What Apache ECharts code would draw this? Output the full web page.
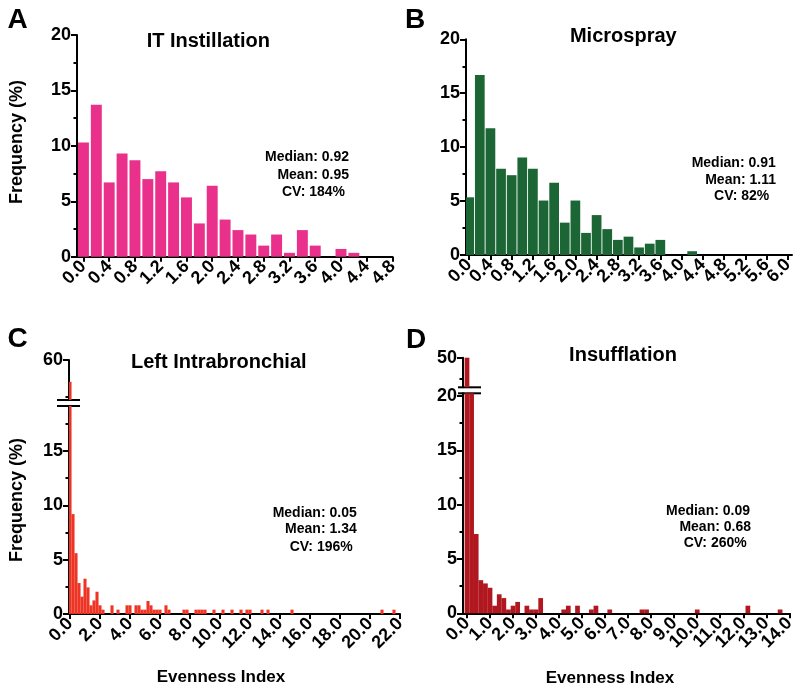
<!DOCTYPE html>
<html><head><meta charset="utf-8">
<script src="https://cdn.jsdelivr.net/npm/echarts@6/dist/echarts.min.js"></script>
<style>html,body{margin:0;padding:0;background:#fff}#c{width:800px;height:692px}</style>
</head><body><div id="c"></div>
<script>
// ---------- DATA ----------
// Panel A: IT Instillation (bin centers, frequency %)
const binsA = [0.0,0.2,0.4,0.6,0.8,1.0,1.2,1.4,1.6,1.8,2.0,2.2,2.4,2.6,2.8,3.0,3.2,3.4,3.6,3.8,4.0,4.2];
const freqA = [10.3,13.7,6.7,9.3,8.7,7.0,7.7,6.7,5.35,3.0,6.4,3.35,2.4,2.0,1.0,2.0,0.35,2.4,1.0,0,0.7,0.35];
// Panel B: Microspray
const binsB = [0.0,0.2,0.4,0.6,0.8,1.0,1.2,1.4,1.6,1.8,2.0,2.2,2.4,2.6,2.8,3.0,3.2,3.4,3.6,3.8,4.0,4.2];
const freqB = [5.35,16.7,11.75,8.0,7.4,9.05,8.0,5.05,6.7,3.0,5.05,2.05,3.7,2.4,1.4,1.7,0.7,1.05,1.4,0,0,0.35];
// Panel C: Left Intrabronchial
const binsC = [0.0,0.2,0.4,0.6,0.8,1.0,1.2,1.4,1.6,1.8,2.0,2.2,2.8,3.2,3.8,4.0,4.4,4.6,4.8,5.0,5.2,5.4,5.6,5.8,6.0,6.4,6.6,7.6,7.8,8.4,8.6,8.8,9.0,9.6,10.2,10.8,11.4,11.8,12.0,12.8,13.2,14.8,20.8,21.6];
const freqC = [54,9.2,5.6,2.85,1.6,3.25,2.45,0.8,1.25,2.05,0.8,0.4,0.8,0.4,0.8,0.8,0.8,0.8,0.4,0.4,1.2,0.8,0.4,0.4,0.4,0.8,0.4,0.4,0.4,0.4,0.4,0.4,0.4,0.4,0.4,0.4,0.4,0.4,0.4,0.4,0.4,0.4,0.4,0.4];
// Panel D: Insufflation
const binsD = [0.0,0.2,0.4,0.6,0.8,1.0,1.2,1.4,1.6,1.8,2.0,2.2,2.6,2.8,3.0,3.2,4.2,4.4,4.8,5.4,5.6,6.2,7.6,7.8,10.0,12.2,13.6];
const freqD = [50,20.5,7.3,3.05,2.75,2.35,0.7,1.75,1.4,0.35,0.7,1.05,0.7,0.35,0.35,1.4,0.35,0.7,0.7,0.35,0.7,0.35,0.35,0.35,0.35,0.7,0.35];

// Tick labels
const xTicksA = [0.0,0.4,0.8,1.2,1.6,2.0,2.4,2.8,3.2,3.6,4.0,4.4,4.8];
const xTicksB = [0.0,0.4,0.8,1.2,1.6,2.0,2.4,2.8,3.2,3.6,4.0,4.4,4.8,5.2,5.6,6.0];
const xTicksC = [0,2,4,6,8,10,12,14,16,18,20,22];
const xTicksD = [0,1,2,3,4,5,6,7,8,9,10,11,12,13,14];
const yTicksAB = [0,5,10,15,20];
const yMinorAB = [2.5,7.5,12.5,17.5];
const yTicksCLow = [0,5,10,15];
const yMinorCLow = [2.5,7.5,12.5,17.5];
const yTicksCUp = [60];
const yMinorCUp = [50];
const yTicksDLow = [0,5,10,15,20];
const yMinorDLow = [2.5,7.5,12.5,17.5];
const yTicksDUp = [50];
const yMinorDUp = [45];

const titles = ['IT Instillation','Microspray','Left Intrabronchial','Insufflation'];
const statsA = ['Median: 0.92','Mean: 0.95','CV: 184%'];
const statsB = ['Median: 0.91','Mean: 1.11','CV: 82%'];
const statsC = ['Median: 0.05','Mean: 1.34','CV: 196%'];
const statsD = ['Median: 0.09','Mean: 0.68','CV: 260%'];

// ---------- LAYOUT ----------
const FONT = '"Liberation Sans", Arial, sans-serif';
const grids = [
  {left:77, top:35, width:315.5, height:221.7},    // A
  {left:466, top:39.3, width:326, height:215.7},   // B
  {left:69, top:406, width:331, height:208},       // C lower
  {left:69, top:360, width:331, height:40},        // C upper
  {left:463, top:393.3, width:327, height:220},    // D lower
  {left:463, top:357.7, width:327, height:29.6}    // D upper
];
const colA = '#E9318B', colB = '#1C6535', colC = '#EE3424', colD = '#B0171F';

const axisLine = {show:true, onZero:false, lineStyle:{color:'#000', width:2}};
const lbl = {fontSize:18, fontWeight:'bold', color:'#000', fontFamily:FONT};
const evenOf = a => a.filter((v,i)=>i%2===0);
const oddOf = a => a.filter((v,i)=>i%2===1);

// main x axis: line, all ticks, even-indexed labels
function xMain(grid, min, max, ticks, dec) {
  return {type:'value', gridIndex:grid, min, max, position:'bottom',
    axisLine, splitLine:{show:false},
    axisTick:{show:true, length:5, lineStyle:{color:'#000', width:2}, customValues:ticks},
    axisLabel:Object.assign({customValues:evenOf(ticks), rotate:45, margin:7,
      showMinLabel:true, showMaxLabel:true, hideOverlap:false,
      formatter:v=>Number(v).toFixed(dec)}, lbl)};
}
// companion x axis: odd-indexed labels only
function xOdd(grid, min, max, ticks, dec) {
  return {type:'value', gridIndex:grid, min, max, position:'bottom', offset:0,
    axisLine:{show:false, onZero:false}, splitLine:{show:false}, axisTick:{show:false},
    axisLabel:Object.assign({customValues:oddOf(ticks), rotate:45, margin:7,
      showMinLabel:true, showMaxLabel:true, hideOverlap:false,
      formatter:v=>Number(v).toFixed(dec)}, lbl)};
}
function xHidden(grid, min, max) {
  return {type:'value', gridIndex:grid, min, max, show:false};
}
function yMain(grid, min, max, ticks) {
  return {type:'value', gridIndex:grid, min, max, position:'left',
    axisLine, splitLine:{show:false},
    axisTick:{show:true, length:6, lineStyle:{color:'#000', width:2}, customValues:ticks},
    axisLabel:Object.assign({customValues:ticks, margin:6, showMinLabel:true, showMaxLabel:true,
      hideOverlap:false, formatter:v=>String(Math.round(v))}, lbl)};
}
function yMinor(grid, min, max, ticks) {
  return {type:'value', gridIndex:grid, min, max, position:'left', offset:0,
    axisLine:{show:false, onZero:false}, splitLine:{show:false},
    axisTick:{show:true, length:3.5, lineStyle:{color:'#000', width:2}, customValues:ticks},
    axisLabel:{show:false}};
}

function histItem(w) {
  return function(params, api) {
    const c = api.value(0), v = api.value(1);
    if (!v) return null;
    const p0 = api.coord([c - w/2, v]);
    const p1 = api.coord([c + w/2, 0]);
    const cs = params.coordSys;
    const r = echarts.graphic.clipRectByRect(
      {x:p0[0], y:p0[1], width:p1[0]-p0[0], height:p1[1]-p0[1]},
      {x:cs.x, y:cs.y, width:cs.width, height:cs.height});
    if (!r) return null;
    return {type:'rect', shape:r, style:{fill:api.visual('color')}};
  };
}
function hist(xi, yi, bins, freq, color, w) {
  return {type:'custom', xAxisIndex:xi, yAxisIndex:yi, renderItem:histItem(w),
    itemStyle:{color}, encode:{x:0, y:1}, silent:true, animation:false,
    data:bins.map((b,i)=>[b, freq[i]])};
}

function txt(x, y, s, size, align, rot) {
  return {type:'text', x, y, rotation:rot||0,
    style:{text:s, fontSize:size, fontWeight:'bold', fontFamily:FONT, fill:'#000',
      align:align||'center', verticalAlign:'middle'}};
}
function statTexts(rights, ys, arr) {
  return arr.map((s,i)=>txt(rights[i], ys[i], s, 14, 'right'));
}
function brk(x1, x2, y) {
  return {type:'line', shape:{x1, y1:y, x2, y2:y}, style:{stroke:'#000', lineWidth:2}};
}

const option = {
  animation:false,
  grid: grids.map(g=>Object.assign({containLabel:false}, g)),
  xAxis: [
    xMain(0, -0.1, 4.8, xTicksA, 1),    xOdd(0, -0.1, 4.8, xTicksA, 1),       // 0,1
    xMain(1, -0.06, 6.08, xTicksB, 1),  xOdd(1, -0.06, 6.08, xTicksB, 1),     // 2,3
    xMain(2, -0.067, 22.0, xTicksC, 1), xOdd(2, -0.067, 22.0, xTicksC, 1),    // 4,5
    xHidden(3, -0.067, 22.0),                                                 // 6
    xMain(4, -0.174, 14.03, xTicksD, 1), xOdd(4, -0.174, 14.03, xTicksD, 1),  // 7,8
    xHidden(5, -0.174, 14.03)                                                 // 9
  ],
  yAxis: [
    yMain(0, 0, 20, yTicksAB), yMinor(0, 0, 20, yMinorAB),
    yMain(1, 0, 20, yTicksAB), yMinor(1, 0, 20, yMinorAB),
    yMain(2, 0, 19.15, yTicksCLow), yMinor(2, 0, 19.15, yMinorCLow),
    yMain(3, 49, 60, yTicksCUp), yMinor(3, 49, 60, yMinorCUp),
    yMain(4, 0, 20.25, yTicksDLow), yMinor(4, 0, 20.25, yMinorDLow),
    yMain(5, 42.8, 50, yTicksDUp), yMinor(5, 42.8, 50, yMinorDUp)
  ],
  series: [
    hist(0, 0, binsA, freqA, colA, 0.17),
    hist(2, 2, binsB, freqB, colB, 0.183),
    hist(4, 4, binsC, freqC, colC, 0.205),
    hist(6, 6, binsC, freqC, colC, 0.205),
    hist(7, 8, binsD, freqD, colD, 0.205),
    hist(9, 10, binsD, freqD, colD, 0.205)
  ],
  graphic: [].concat(
    [txt(17.5, 20, 'A', 28), txt(415, 20, 'B', 28), txt(17.5, 339, 'C', 28), txt(416, 340, 'D', 28)],
    [txt(208.3, 41, titles[0], 20), txt(623.3, 36, titles[1], 20),
     txt(218.8, 362.5, titles[2], 20), txt(623, 355.8, titles[3], 20)],
    [txt(17, 142, 'Frequency (%)', 18, 'center', Math.PI/2),
     txt(17, 500, 'Frequency (%)', 18, 'center', Math.PI/2),
     txt(221, 677, 'Evenness Index', 17), txt(610, 678, 'Evenness Index', 17)],
    statTexts([349,349,345],[157.5,175.5,192.5], statsA),
    statTexts([775.7,776,769.3],[163.3,180,196], statsB),
    statTexts([356.7,356.7,352.7],[513.3,529.3,546.7], statsC),
    statTexts([750,751,746.7],[511,526.7,542.7], statsD),
    [brk(57, 80, grids[3].top + grids[3].height), brk(57, 80, grids[2].top),
     brk(458, 481, grids[5].top + grids[5].height), brk(458, 481, grids[4].top)]
  )
};
const chart = echarts.init(document.getElementById('c'), null, {renderer:'canvas'});
chart.setOption(option);
</script></body></html>
